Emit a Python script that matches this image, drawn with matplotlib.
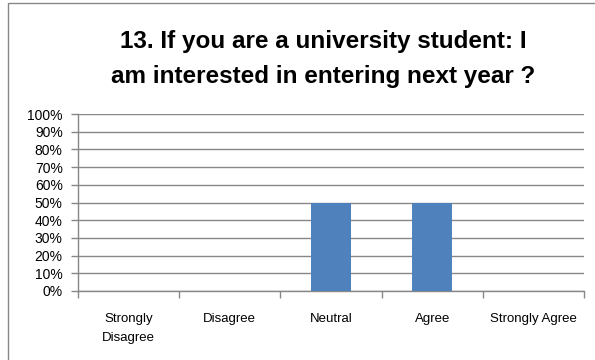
import matplotlib
matplotlib.use("Agg")
import matplotlib.pyplot as plt
from matplotlib.patches import Rectangle
from matplotlib.ticker import PercentFormatter

categories = ["Strongly\nDisagree", "Disagree", "Neutral", "Agree", "Strongly Agree"]
shares = [0.0, 0.0, 0.5, 0.5, 0.0]
yticks = [0.0, 0.1, 0.2, 0.3, 0.4, 0.5, 0.6, 0.7, 0.8, 0.9, 1.0]
title_lines = ["13. If you are a university student: I",
               "am interested in entering next year ?"]

BAR = "#4f81bd"
GRID = "#878787"

plt.rcParams["font.family"] = ["Liberation Sans", "DejaVu Sans"]

fig = plt.figure(figsize=(5.95, 3.6), dpi=100)
# chart frame (runs off the right and bottom edges)
fig.patches.append(Rectangle((8 / 595, -10 / 360), 600 / 595, 367 / 360,
                             transform=fig.transFigure, fill=False,
                             edgecolor="#888888", linewidth=1))

ax = fig.add_axes([78 / 595, 1 - 291 / 360, 506 / 595, 177 / 360])
x = range(len(categories))
ax.bar(x, shares, width=0.39, color=BAR, zorder=3)

ax.set_xlim(-0.5, len(categories) - 0.5)
ax.set_ylim(0, 1)
ax.set_yticks(yticks)
ax.yaxis.set_major_formatter(PercentFormatter(1.0, decimals=0))
ax.yaxis.grid(True, color=GRID, linewidth=1, zorder=0)

ax.set_xticks([i - 0.5 for i in range(len(categories) + 1)])
ax.set_xticklabels([])
ax.set_xticks(list(x), minor=True)
ax.set_xticklabels(categories, minor=True, fontsize=9.5, linespacing=1.75)
ax.tick_params(axis="x", which="minor", length=0, pad=16)
ax.tick_params(axis="x", which="major", length=5, color=GRID, width=1)
ax.tick_params(axis="y", length=5, color=GRID, width=1, labelsize=10, pad=6)

for side in ("top", "right"):
    ax.spines[side].set_visible(False)
for side in ("left", "bottom"):
    ax.spines[side].set_color(GRID)
    ax.spines[side].set_linewidth(1)

for line, ypix in zip(title_lines, (48, 83)):
    fig.text(323 / 595, 1 - ypix / 360, line, ha="center", va="baseline",
             fontsize=17.5, fontweight="bold")

fig.savefig("out.png", dpi=100)
